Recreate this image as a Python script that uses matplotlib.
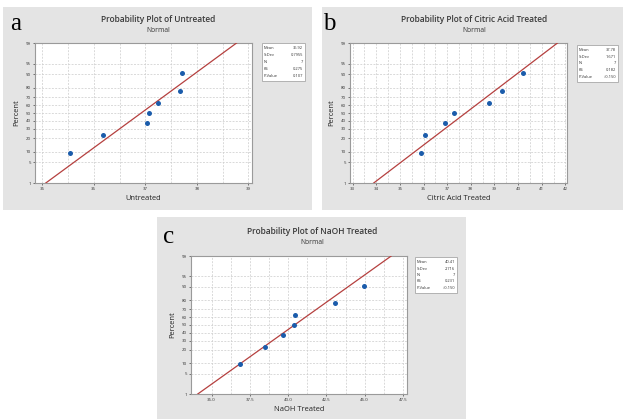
import numpy as np
import matplotlib
matplotlib.use("Agg")
import matplotlib.pyplot as plt
from matplotlib.patches import Rectangle
from statistics import NormalDist

# ---------------- data ----------------
percent = [9.46, 22.97, 36.49, 50.0, 63.51, 77.03, 90.54]
untreated = [35.54, 36.17, 37.04, 37.08, 37.25, 37.68, 37.71]
citric = [35.90, 36.07, 36.92, 37.31, 38.75, 39.33, 40.20]
naoh = [36.85, 38.50, 39.65, 40.40, 40.45, 43.05, 44.95]

stats_a = [("Mean", "36.92"), ("StDev", "0.7955"), ("N", "7"), ("KS", "0.275"), ("P-Value", "0.107")]
stats_b = [("Mean", "37.78"), ("StDev", "1.671"), ("N", "7"), ("KS", "0.182"), ("P-Value", ">0.150")]
stats_c = [("Mean", "40.41"), ("StDev", "2.716"), ("N", "7"), ("KS", "0.231"), ("P-Value", ">0.150")]

mean_a, sd_a = 36.92, 0.7955
mean_b, sd_b = 37.78, 1.671
mean_c, sd_c = 40.41, 2.716

yticks = [1, 5, 10, 20, 30, 40, 50, 60, 70, 80, 90, 95, 99]
xticks_a = [35, 36, 37, 38, 39]
xticks_b = [33, 34, 35, 36, 37, 38, 39, 40, 41, 42]
xticks_c = [35.0, 37.5, 40.0, 42.5, 45.0, 47.5]
line_pct = [1, 99]

# ---------------- helpers ----------------
W, H = 623, 419
nd = NormalDist()
_inv = np.vectorize(lambda p: nd.inv_cdf(min(max(p / 100.0, 1e-9), 1 - 1e-9)), otypes=[float])
_cdf = np.vectorize(lambda z: nd.cdf(z) * 100.0, otypes=[float])


def fwd(p):
    return _inv(np.asarray(p, dtype=float))


def inv(z):
    return _cdf(np.asarray(z, dtype=float))


def fr(x0, y0, x1, y1):
    return [x0 / W, 1 - y1 / H, (x1 - x0) / W, (y1 - y0) / H]


FONT = "Open Sans"
plt.rcParams["font.family"] = [FONT, "DejaVu Sans"]

fig = plt.figure(figsize=(W / 100, H / 100), dpi=100)
fig.patch.set_facecolor("white")

BG = "#e4e4e4"
for (x0, y0, x1, y1) in [(3, 7, 312, 210), (322, 7, 623, 210), (157, 217, 466, 419)]:
    fig.patches.append(Rectangle((x0 / W, 1 - y1 / H), (x1 - x0) / W, (y1 - y0) / H,
                                 transform=fig.transFigure, facecolor=BG, edgecolor="none", zorder=-10))


def panel(rect, data, mean, sd, xticks, xlim, xgrid, xlabel, title, letter, letter_xy,
          title_xy, stats, box, xfmt):
    ax = fig.add_axes(fr(*rect))
    ax.set_zorder(1)
    ax.set_yscale("function", functions=(fwd, inv))
    ax.set_ylim(1, 99)
    ax.set_xlim(*xlim)
    ax.set_facecolor("white")
    for s in ax.spines.values():
        s.set_color("#9a9a9a")
        s.set_linewidth(0.8)
    # grid
    for g in xgrid:
        ax.axvline(g, color="#cfcfcf", lw=0.55, ls=(0, (2.5, 1.8)), zorder=1)
    for g in yticks:
        ax.axhline(g, color="#cfcfcf", lw=0.55, ls=(0, (2.5, 1.8)), zorder=1)
    # fit line
    lx = [mean + sd * nd.inv_cdf(p / 100.0) for p in line_pct]
    ax.plot(lx, line_pct, color="#b5403f", lw=0.9, zorder=3)
    ax.plot(data, percent, "o", color="#1b5cab", ms=3.6, mec="none", zorder=4)
    ax.set_yticks(yticks)
    ax.set_yticklabels([str(t) for t in yticks])
    ax.yaxis.set_minor_locator(matplotlib.ticker.NullLocator())
    ax.set_xticks(xticks)
    ax.set_xticklabels([xfmt.format(t) for t in xticks])
    ax.tick_params(labelsize=3.2, length=1.5, width=0.5, pad=1.5, colors="#444444", labelcolor="#333333")
    ax.set_xlabel(xlabel, fontsize=5.4, labelpad=3, color="#222222")
    ax.set_ylabel("Percent", fontsize=5.4, labelpad=4, color="#222222")
    # titles
    tx, ty = title_xy
    fig.text(tx / W, 1 - ty / H, title, ha="center", va="center", fontsize=6.0,
             fontweight="semibold", color="#3a3a3a")
    fig.text(tx / W, 1 - (ty + 11) / H, "Normal", ha="center", va="center", fontsize=4.9,
             color="#333333")
    lx0, ly0 = letter_xy
    fig.text(lx0 / W, 1 - ly0 / H, letter, ha="left", va="baseline", fontsize=18,
             family="Liberation Serif", color="black")
    # stats box
    bx0, by0, bx1, by1 = box
    fig.patches.append(Rectangle((bx0 / W, 1 - by1 / H), (bx1 - bx0) / W, (by1 - by0) / H,
                                 transform=fig.transFigure, facecolor="white",
                                 edgecolor="#a8a8a8", lw=0.6, zorder=2))
    step = (by1 - by0 - 4) / 5.0
    for i, (k, v) in enumerate(stats):
        yy = by0 + 2 + step * (i + 0.5)
        fig.text((bx0 + 2) / W, 1 - yy / H, k, ha="left", va="center", fontsize=2.9, color="#333333")
        fig.text((bx1 - 2) / W, 1 - yy / H, v, ha="right", va="center", fontsize=2.9, color="#333333")
    return ax


panel((35, 43, 252, 183), untreated, mean_a, sd_a, xticks_a, (34.86, 39.07),
      np.arange(35, 39.01, 0.5), "Untreated", "Probability Plot of Untreated", "a", (10, 30),
      (158, 19), stats_a, (262, 43, 305, 81), "{:g}")
panel((350, 43, 567, 183), citric, mean_b, sd_b, xticks_b, (32.89, 42.07),
      np.arange(33, 42.01, 0.5), "Citric Acid Treated", "Probability Plot of Citric Acid Treated", "b",
      (323, 30), (474, 19), stats_b, (577, 45, 618, 82), "{:g}")
panel((191, 256, 407, 394), naoh, mean_c, sd_c, xticks_c, (33.65, 47.76),
      np.arange(35, 47.51, 1.25), "NaOH Treated", "Probability Plot of NaOH Treated", "c",
      (163, 243), (312, 231), stats_c, (415, 257, 457, 293), "{:.1f}")

fig.savefig("out.png", dpi=100, facecolor="white")
